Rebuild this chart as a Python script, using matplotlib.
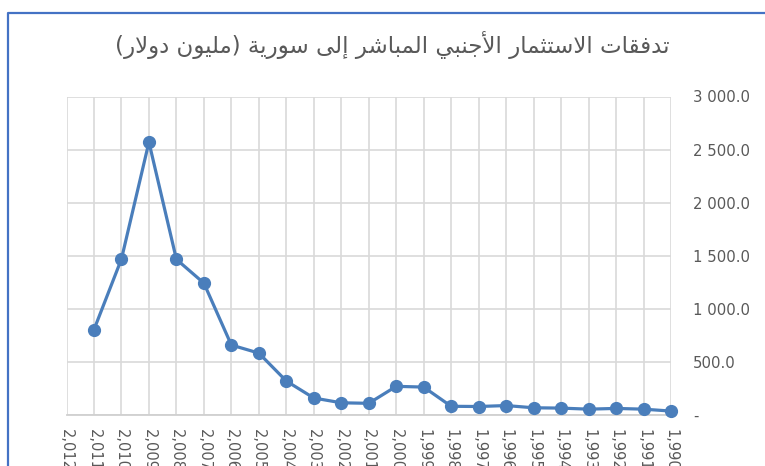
import matplotlib
matplotlib.use('Agg')
import matplotlib.pyplot as plt
from matplotlib.lines import Line2D
from matplotlib.ticker import FuncFormatter

# data (million USD), newest year first
years = list(range(2012, 1989, -1))
fdi = [None, 804, 1469, 2570, 1466, 1242, 659, 583, 320, 160, 115, 110,
       270, 263, 82, 80, 89, 68, 65, 55, 62, 55, 37]
title_ar = 'تدفقات الاستثمار الأجنبي المباشر إلى سورية (مليون دولار)'

# matplotlib does no arabic shaping, so pick the presentation forms by hand
forms = {  # iso, fin, ini, med
    'ا': ('\uFE8D', '\uFE8E', None, None), 'أ': ('\uFE83', '\uFE84', None, None),
    'إ': ('\uFE87', '\uFE88', None, None), 'ب': ('\uFE8F', '\uFE90', '\uFE91', '\uFE92'),
    'ة': ('\uFE93', '\uFE94', None, None), 'ت': ('\uFE95', '\uFE96', '\uFE97', '\uFE98'),
    'ث': ('\uFE99', '\uFE9A', '\uFE9B', '\uFE9C'), 'ج': ('\uFE9D', '\uFE9E', '\uFE9F', '\uFEA0'),
    'د': ('\uFEA9', '\uFEAA', None, None), 'ر': ('\uFEAD', '\uFEAE', None, None),
    'س': ('\uFEB1', '\uFEB2', '\uFEB3', '\uFEB4'), 'ش': ('\uFEB5', '\uFEB6', '\uFEB7', '\uFEB8'),
    'ف': ('\uFED1', '\uFED2', '\uFED3', '\uFED4'), 'ق': ('\uFED5', '\uFED6', '\uFED7', '\uFED8'),
    'ل': ('\uFEDD', '\uFEDE', '\uFEDF', '\uFEE0'), 'م': ('\uFEE1', '\uFEE2', '\uFEE3', '\uFEE4'),
    'ن': ('\uFEE5', '\uFEE6', '\uFEE7', '\uFEE8'), 'و': ('\uFEED', '\uFEEE', None, None),
    'ى': ('\uFEEF', '\uFEF0', None, None), 'ي': ('\uFEF1', '\uFEF2', '\uFEF3', '\uFEF4'),
}
lam_alef = {'ا': ('\uFEFB', '\uFEFC'), 'أ': ('\uFEF7', '\uFEF8'), 'إ': ('\uFEF9', '\uFEFA')}


def shape(s):
    out = []
    i = 0
    prev_joins = False
    while i < len(s):
        c = s[i]
        if c == 'ل' and i + 1 < len(s) and s[i + 1] in lam_alef:
            out.append(lam_alef[s[i + 1]][1 if prev_joins else 0])
            prev_joins = False
            i += 2
            continue
        if c not in forms:
            out.append(c)
            prev_joins = False
            i += 1
            continue
        f = forms[c]
        nxt = s[i + 1] if i + 1 < len(s) else ''
        next_ok = nxt in forms and f[2] is not None
        if prev_joins and next_ok:
            g = f[3]
        elif prev_joins:
            g = f[1]
        elif next_ok:
            g = f[2]
        else:
            g = f[0]
        out.append(g)
        prev_joins = f[2] is not None
        i += 1
    vis = ''.join(out)[::-1]
    return vis.translate(str.maketrans('()', ')('))


def ylab(v, pos):
    if v == 0:
        return '-'
    return '{:,.1f}'.format(v).replace(',', ' ')


grey = '#595959'
blue = '#4A7EBB'

fig = plt.figure(figsize=(7.65, 4.66), dpi=100)
ax = fig.add_axes([66.5 / 765, 1 - 415 / 466, (671 - 66.5) / 765, (415 - 96.5) / 466])

x = list(range(len(years)))
xs = [xi for xi, v in zip(x, fdi) if v is not None]
vs = [v for v in fdi if v is not None]
ax.plot(xs, vs, color=blue, lw=2.3, marker='o', ms=8.5, zorder=3, clip_on=False)

ax.set_xlim(0, len(years) - 1)
ax.set_ylim(0, 3000)
ax.set_xticks(x)
ax.set_xticklabels(['{:,}'.format(y) for y in years], rotation=-90,
                   ha='center', va='top', fontsize=10.5, color=grey)
ax.set_yticks(range(0, 3001, 500))
ax.yaxis.set_major_formatter(FuncFormatter(ylab))
ax.yaxis.tick_right()
for lab in ax.get_yticklabels():
    lab.set_horizontalalignment('left')
ax.tick_params(axis='y', length=0, pad=16, labelsize=10.7, labelcolor=grey)
ax.tick_params(axis='x', length=0, pad=10)

ax.grid(True, color='#D9D9D9', lw=1.2)
ax.set_axisbelow(True)
for side in ['top', 'left', 'right']:
    ax.spines[side].set_visible(False)
ax.spines['bottom'].set_color('#D0D0D0')
ax.spines['bottom'].set_linewidth(1.3)

fig.text(392 / 765, 1 - 45 / 466, shape(title_ar), family='DejaVu Sans',
         fontsize=16.5, color=grey, ha='center', va='center')

# border of the chart area (only its top and left edges are in the crop)
fig.add_artist(Line2D([8 / 765, 8 / 765, 1], [0, 1 - 13 / 466, 1 - 13 / 466],
                      transform=fig.transFigure, color='#4472C4', lw=1.6))

fig.savefig('out.png', dpi=100)
